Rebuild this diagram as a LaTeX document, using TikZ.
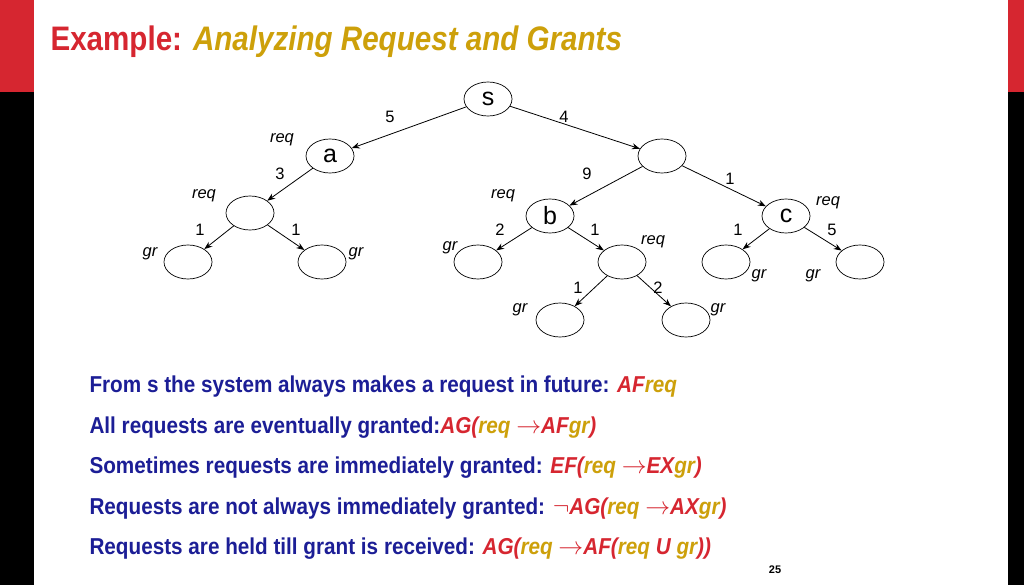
\documentclass[tikz,border=0pt]{standalone}
\usepackage{fontspec}
\setmainfont{Liberation Sans}
\newfontfamily\cond[FakeStretch=0.87]{Liberation Sans}
\newfontfamily\condb[FakeStretch=0.9]{Liberation Sans}
\begin{document}
\begin{tikzpicture}[x=1pt,y=-1pt,
  st/.style={draw,ellipse,line width=0.7pt,minimum width=48pt,minimum height=34pt,inner sep=0pt,font=\fontsize{25}{25}\selectfont},
  ed/.style={-{Stealth[length=8pt,width=6pt]},line width=0.8pt},
  lb/.style={font=\fontsize{16.5}{16.5}\selectfont},
  il/.style={font=\fontsize{16.5}{16.5}\selectfont\itshape},
  ln/.style={anchor=west,font=\condb\bfseries\fontsize{23}{23}\selectfont,text=blu}]
\usetikzlibrary{arrows.meta,shapes.geometric}
\definecolor{blu}{RGB}{28,30,150}
\definecolor{rd}{RGB}{214,38,48}
\definecolor{gld}{RGB}{205,160,10}
\useasboundingbox (0,0) rectangle (1024,585);
\fill[white] (0,0) rectangle (1024,585);
\fill[rd] (0,0) rectangle (34,92);
\fill[black] (0,92) rectangle (34,585);
\fill[rd] (1008,0) rectangle (1024,92);
\fill[black] (1008,92) rectangle (1024,585);
\node[anchor=west,font=\cond\bfseries\fontsize{34}{34}\selectfont] (title) at (47,42) {\textcolor{rd}{Example:} \textcolor{gld}{\itshape Analyzing Request and Grants}};
\node[st] (s) at (488,99) {s};
\node[st] (a) at (330,156) {a};
\node[st] (l1) at (250,213) {};
\node[st] (ll) at (188,262) {};
\node[st] (lr) at (322,262) {};
\node[st] (r1) at (662,156) {};
\node[st] (b) at (550,216) {b};
\node[st] (bl) at (478,262) {};
\node[st] (br) at (622,262) {};
\node[st] (brl) at (560,320) {};
\node[st] (brr) at (686,320) {};
\node[st] (c) at (786,216) {c};
\node[st] (cl) at (726,262) {};
\node[st] (cr) at (860,262) {};
\draw[ed] (s) -- (a); \draw[ed] (s) -- (r1);
\draw[ed] (a) -- (l1); \draw[ed] (l1) -- (ll); \draw[ed] (l1) -- (lr);
\draw[ed] (r1) -- (b); \draw[ed] (r1) -- (c);
\draw[ed] (b) -- (bl); \draw[ed] (b) -- (br);
\draw[ed] (br) -- (brl); \draw[ed] (br) -- (brr);
\draw[ed] (c) -- (cl); \draw[ed] (c) -- (cr);
\node[lb] (n1) at (390,117) {5}; \node[lb] (n2) at (564,117) {4};
\node[il] (n3) at (282,140) {req}; \node[lb] (n4) at (280,174) {3};
\node[il] (n5) at (204,196) {req}; \node[lb] (n6) at (200,230) {1};
\node[lb] (n7) at (296,230) {1}; \node[il] (n8) at (150,254) {gr};
\node[il] (n9) at (356,254) {gr}; \node[lb] (n10) at (587,174) {9};
\node[lb] (n11) at (730,179) {1}; \node[il] (n12) at (503,196) {req};
\node[lb] (n13) at (500,230) {2}; \node[lb] (n14) at (595,230) {1};
\node[il] (n15) at (653,242) {req}; \node[il] (n16) at (450,248) {gr};
\node[lb] (n17) at (578,288) {1}; \node[lb] (n18) at (658,288) {2};
\node[il] (n19) at (520,310) {gr}; \node[il] (n20) at (718,310) {gr};
\node[il] (n21) at (828,203) {req}; \node[lb] (n22) at (738,230) {1};
\node[lb] (n23) at (832,230) {5}; \node[il] (n24) at (759,276) {gr};
\node[il] (n25) at (813,276) {gr};
\node[ln] (t1) at (86,387) {From s the system always makes a request in future: \textcolor{rd}{\itshape AF}\textcolor{gld}{\itshape req}};
\node[ln] (t2) at (86,428) {All requests are eventually granted:\textcolor{rd}{\itshape AG(}\textcolor{gld}{\itshape req} \textcolor{rd}{$\rightarrow$\itshape AF}\textcolor{gld}{\itshape gr}\textcolor{rd}{\itshape )}};
\node[ln] (t3) at (86,468) {Sometimes requests are immediately granted: \textcolor{rd}{\itshape EF(}\textcolor{gld}{\itshape req} \textcolor{rd}{$\rightarrow$\itshape EX}\textcolor{gld}{\itshape gr}\textcolor{rd}{\itshape )}};
\node[ln] (t4) at (86,509) {Requests are not always immediately granted: \textcolor{rd}{$\neg$\itshape AG(}\textcolor{gld}{\itshape req} \textcolor{rd}{$\rightarrow$\itshape AX}\textcolor{gld}{\itshape gr}\textcolor{rd}{\itshape )}};
\node[ln] (t5) at (86,549) {Requests are held till grant is received: \textcolor{rd}{\itshape AG(}\textcolor{gld}{\itshape req} \textcolor{rd}{$\rightarrow$\itshape AF(}\textcolor{gld}{\itshape req} \textcolor{rd}{\itshape U} \textcolor{gld}{\itshape gr}\textcolor{rd}{\itshape ))}};
\node[font=\bfseries\fontsize{11}{11}\selectfont] (pg) at (775,570) {25};
\end{tikzpicture}
\end{document}
